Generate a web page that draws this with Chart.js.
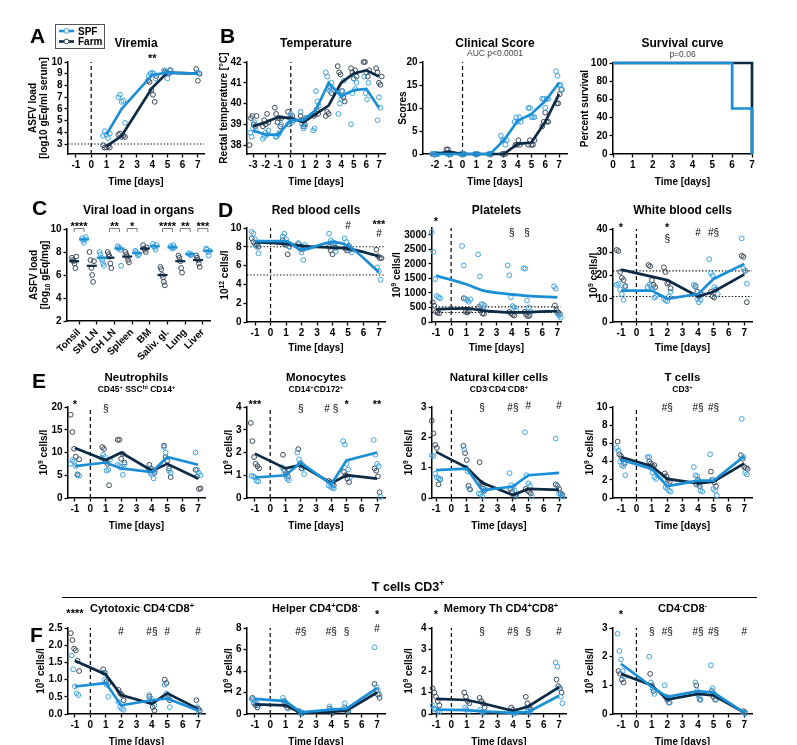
<!DOCTYPE html>
<html>
<head>
<meta charset="utf-8">
<script src="https://cdn.jsdelivr.net/npm/chart.js@4.4.0/dist/chart.umd.min.js"></script>
<style>
  body { margin: 0; background: #fff; width: 797px; height: 745px; position: relative; overflow: hidden; }
  canvas { position: absolute; }
</style>
</head>
<body>
<canvas id="bg" width="797" height="745" style="left:0;top:0"></canvas>
<script>
// ---------- data ----------
const groupNames = ['SPF', 'Farm'];
const bloodDays = [-1, 1, 2, 4, 5, 7];
const ticksM1 = [-1, 0, 1, 2, 3, 4, 5, 6, 7];

// A: viremia
const viremiaDays = [1, 2, 4, 5, 7];
const viremiaSPF = [[3.7, 4.1, 3.8, 3.5, 3.9], [7.0, 7.2, 6.6, 6.7, 4.8], [8.8, 9.0, 9.1, 9.0, 8.6], [9.3, 9.2, 8.6, 9.0, 9.3], [9.1, 9.05]];
const viremiaFarm = [[2.9, 2.7, 2.7, 2.8, 2.7], [3.8, 3.9, 3.6, 3.7, 3.6], [8.4, 8.3, 7.6, 7.2, 6.6, 8.8], [9.2, 9.1, 9.0, 9.3], [9.4, 8.4, 9.0]];
const viremiaSPFMean = [3.8, 6.0, 8.9, 9.1, 9.0];
const viremiaFarmMean = [2.8, 3.7, 7.8, 9.1, 9.0];
const viremiaTicks = [3, 4, 5, 6, 7, 8, 9, 10];

// B: temperature
const tempDays = [-3, -2, -1, 0, 1, 2, 3, 4, 5, 6, 7];
const tempSPF = [
  [38.6, 38.4, 38.8, 39.1, 38.7], [38.3, 38.4, 38.6, 38.5, 38.7], [38.4, 38.4, 38.5, 38.6, 39.0],
  [39.0, 39.3, 39.5, 39.1, 39.2], [39.6, 39.0, 38.8, 38.9, 39.3], [38.7, 38.8, 40.6, 40.1, 39.9],
  [41.5, 41.3, 40.7, 40.6, 41.0], [39.5, 40.0, 40.2, 40.6, 41.1], [39.0, 40.5, 41.2, 40.7, 41.0],
  [41.3, 40.5, 40.2, 41.0], [39.2, 40.3, 39.8]
];
const tempFarm = [
  [38.0, 39.3, 39.4, 39.0, 38.9, 39.4], [38.9, 39.2, 39.0, 39.5, 39.1], [39.8, 39.5, 39.1, 39.3, 38.9, 39.3],
  [39.6, 39.0, 39.3, 39.4, 39.2], [39.4, 39.2, 38.9, 39.0, 39.3], [39.4, 39.5, 39.7, 39.5],
  [39.4, 39.6, 39.5, 40.8, 40.5], [41.8, 41.5, 41.4, 40.6, 40.3, 40.1], [41.7, 41.5, 41.2, 41.6, 41.3],
  [42.0, 42.0, 41.5, 41.3, 41.6], [41.7, 41.5, 41.0, 40.9, 41.3]
];
const tempSPFMean = [38.7, 38.5, 38.5, 39.2, 39.2, 39.7, 41.0, 40.35, 40.65, 40.7, 39.8];
const tempFarmMean = [38.9, 39.1, 39.35, 39.3, 39.1, 39.5, 39.9, 41.0, 41.45, 41.6, 41.3];
const tempTicksX = [-3, -2, -1, 0, 1, 2, 3, 4, 5, 6, 7];
const tempTicksY = [38, 39, 40, 41, 42];

// B: clinical score
const clinDays = [-2, -1, 0, 1, 2, 3, 4, 5, 6, 7];
const clinSPF = [[0, 0, 0, 0, 0], [0, 0, 0], [0, 0, 0], [0, 0, 0], [0, 0, 0], [4, 3, 3, 2, 3], [7, 8, 7, 8, 7], [10, 10, 8, 8, 8], [12, 12, 10, 12, 12], [18, 17, 15, 15, 14]];
const clinFarm = [[0, 0, 0, 0], [1, 1, 0, 0], [0, 0, 0], [0, 0], [0, 0], [0, 0, 0], [2, 2, 3, 2], [2, 3, 2, 2, 3], [6, 7, 9, 7, 7], [11, 11, 13, 14]];
const clinSPFMean = [0, 0, 0, 0, 0, 3, 7.2, 8.7, 11.5, 15.5];
const clinFarmMean = [0, 0.5, 0, 0, 0, 0, 2.2, 2.5, 7, 13];
const clinTicksX = [-2, -1, 0, 1, 2, 3, 4, 5, 6, 7];
const clinTicksY = [0, 5, 10, 15, 20];

// B: survival
const survSPFDays = [0, 6, 7];
const survSPF = [100, 50, 0];
const survFarmDays = [0, 7];
const survFarm = [100, 0];
const survTicksX = [0, 1, 2, 3, 4, 5, 6, 7];
const survTicksY = [0, 20, 40, 60, 80, 100];

// C: viral load in organs
const organs = ['Tonsil', 'SM LN', 'GH LN', 'Spleen', 'BM', 'Saliv. gl.', 'Lung', 'Liver'];
const organFarm = [
  [7.5, 7.3, 7.2, 7.0, 6.6, 7.6], [8.0, 7.3, 6.6, 6.0, 5.4, 7.2], [8.0, 7.8, 7.6, 7.0, 6.6],
  [8.0, 7.8, 7.6, 7.3, 7.1], [8.6, 8.3, 8.2, 8.0, 8.4], [6.7, 6.5, 6.0, 5.8, 5.4, 5.1],
  [7.7, 7.5, 7.2, 6.6, 6.2], [7.7, 7.5, 7.3, 7.0, 6.7]
];
const organSPF = [
  [9.2, 9.0, 8.8, 9.1, 9.3], [8.0, 7.8, 7.5, 7.3, 7.0, 6.8], [8.5, 8.3, 8.4, 8.2, 6.8],
  [8.1, 8.0, 7.9, 7.7, 7.8], [8.7, 8.5, 8.4, 8.2, 8.6], [8.5, 8.4, 8.3, 8.6, 8.4],
  [7.9, 7.8, 7.7, 7.8], [8.3, 8.2, 8.0, 7.7, 8.1]
];
const organFarmMedian = [7.2, 6.8, 7.5, 7.6, 8.3, 6.0, 7.2, 7.3];
const organSPFMedian = [9.1, 7.5, 8.3, 7.9, 8.5, 8.4, 7.8, 8.1];
const organStars = ['****', '', '**', '*', '', '****', '**', '***'];
const organTicksY = [2, 4, 6, 8, 10];

// D: red blood cells
const rbcSPF = [[9.6, 9.4, 8.8, 8.0, 7.3], [9.1, 9.4, 8.8, 8.3, 8.0], [8.4, 7.8, 7.4, 6.6, 8.2], [9.4, 8.7, 8.5, 8.2, 7.5], [8.9, 8.5, 8.0, 7.7, 7.4], [5.8, 5.4, 4.5]];
const rbcFarm = [[8.9, 8.5, 8.3, 8.2, 8.0], [8.7, 8.3, 8.2, 7.2, 8.0], [8.3, 8.0, 7.7, 7.9], [8.0, 7.6, 7.2, 8.4, 7.9], [7.8, 7.6, 8.1, 7.7], [7.7, 7.0, 6.8, 6.8]];
const rbcSPFMean = [8.6, 8.6, 7.7, 8.5, 8.1, 5.3];
const rbcFarmMean = [8.5, 8.3, 8.1, 7.9, 7.8, 7.0];
const rbcTicksY = [0, 2, 4, 6, 8, 10];

// D: platelets
const pltSPF = [[3100, 2420, 1480, 900, 850, 820], [2620, 1950, 800, 750, 700, 780], [2330, 1570, 620, 600, 550], [1950, 1610, 850, 550, 500, 400], [1850, 1840, 740, 500, 350], [1230, 1150, 300, 220, 150]];
const pltFarm = [[680, 560, 350, 320, 300], [820, 350, 330, 370], [520, 400, 300, 280], [350, 300, 250, 220], [350, 250, 200, 220], [570, 400, 330, 280]];
const pltSPFMean = [1600, 1300, 1100, 950, 900, 850];
const pltFarmMean = [440, 470, 400, 330, 340, 380];
const pltTicksY = [0, 500, 1000, 1500, 2000, 2500, 3000];

// D: white blood cells
const wbcSPF = [[16, 16.5, 14, 12, 9.5, 15], [15, 16, 15.5, 14, 10.5, 11], [10, 9.3, 9.0, 11, 13], [16, 15, 10, 8.5, 9.5, 12], [27, 21, 20, 15, 14, 12], [36, 23, 22, 16.5]];
const wbcFarm = [[31, 30.5, 21.5, 19, 18, 15.5], [24.5, 24, 18, 16, 15], [23.5, 21.5, 16.5, 17, 14.5], [15.5, 13, 11, 12], [13, 11, 10.5, 14], [28.5, 28, 22, 8.5]];
const wbcSPFMean = [13.5, 13.5, 10, 12, 18.5, 25];
const wbcFarmMean = [22.5, 19.5, 18, 11, 13, 20.5];
const wbcTicksY = [0, 10, 20, 30, 40];

// E: neutrophils
const neuSPF = [[7.5, 8.3, 8.0, 7.0, 5.0, 4.9], [8.8, 9.5, 9.0, 6.0, 6.2, 8.5], [7.3, 7.0, 6.7, 5.1, 7.4], [6.5, 5.5, 5.2, 4.3, 6.0], [11.2, 10.0, 8.0, 6.0, 5.5], [10.0, 6.2, 5.5, 5.0]];
const neuFarm = [[18.3, 14.5, 10.8, 9.1, 5.2, 8.5], [11.2, 10.8, 8.2, 7.5, 2.8], [12.8, 12.8, 8.6, 9.7, 7.8], [7.3, 6.5, 6.0, 5.5], [11.5, 9.0, 8.2, 6.5, 4.6], [6.2, 4.7, 2.0, 2.1]];
const neuSPFMean = [7.0, 7.8, 6.5, 5.7, 9.0, 7.3];
const neuFarmMean = [11.0, 8.3, 10.0, 6.0, 7.5, 4.3];
const neuTicksY = [0, 5, 10, 15, 20];

// E: monocytes
const monoSPF = [[0.97, 0.95, 0.9, 0.75, 0.73], [1.35, 1.25, 1.0, 0.85, 0.78], [2.0, 1.7, 1.55, 1.3, 1.05], [0.55, 0.5, 0.45, 0.42], [2.5, 2.35, 1.5, 1.25, 0.9], [2.55, 1.9, 1.5, 1.4, 0.05]];
const monoFarm = [[3.3, 2.5, 1.8, 1.5, 1.4, 1.3], [1.9, 1.2, 1.1, 0.95], [2.15, 1.5, 1.3, 1.4], [0.75, 0.7, 0.6, 0.55], [1.15, 1.0, 0.85, 0.7], [1.3, 1.2, 0.95, 0.25]];
const monoSPFMean = [0.9, 1.0, 1.55, 0.6, 1.65, 2.0];
const monoFarmMean = [1.95, 1.3, 1.45, 0.65, 1.0, 0.85];
const monoTicksY = [0, 1, 2, 3, 4];

// E: natural killer cells
const nkSPF = [[1.4, 1.38, 0.8, 0.68, 0.65, 0.6], [1.6, 1.0, 0.88, 0.3], [0.15, 0.12, 0.05, 0.22, 0.28], [0.82, 0.42, 0.35, 0.25, 0.1], [2.17, 0.75, 0.48, 0.4, 0.05], [1.96, 0.4, 0.15, 0.1, 0.05]];
const nkFarm = [[2.55, 2.13, 1.75, 1.65, 0.45, 0.62], [1.72, 1.48, 1.25, 0.4, 0.28], [1.18, 0.5, 0.45, 0.25], [0.3, 0.2, 0.05, 0.05], [0.3, 0.25, 0.2, 0.15], [0.45, 0.4, 0.3, 0.15, 0.1]];
const nkSPFMean = [0.92, 0.97, 0.25, 0.38, 0.75, 0.83];
const nkFarmMean = [1.52, 1.0, 0.5, 0.1, 0.3, 0.27];
const nkTicksY = [0, 1, 2, 3];

// E: T cells
const tcSPF = [[5.5, 5.2, 4.0, 3.6, 3.5, 2.5], [4.5, 4.5, 3.3, 2.8, 2.3, 2.1], [2.0, 1.2, 1.0, 0.8, 0.7], [3.4, 2.5, 2.4, 1.5, 0.8, 0.7], [4.8, 2.0, 1.0, 0.8, 0.3], [8.7, 4.5, 2.8, 2.6]];
const tcFarm = [[6.2, 4.8, 4.6, 4.2, 3.8], [4.0, 3.8, 3.5, 3.6], [2.7, 2.4, 2.0, 1.8], [1.5, 2.0, 1.3], [2.9, 2.0, 1.7, 1.3], [4.7, 4.3, 3.4, 3.3, 3.2]];
const tcSPFMean = [4.2, 3.2, 1.3, 1.9, 1.9, 4.6];
const tcFarmMean = [4.5, 3.5, 2.1, 1.6, 1.8, 3.8];
const tcTicksY = [0, 2, 4, 6, 8, 10];

// F: cytotoxic CD4-CD8+
const cytoSPF = [[1.7, 1.3, 0.8, 0.6, 0.55], [1.2, 1.0, 0.85, 0.5], [0.35, 0.2, 0.15, 0.12], [0.55, 0.45, 0.35, 0.25], [0.85, 0.6, 0.45, 0.2], [0.2, 0.05]];
const cytoFarm = [[2.35, 2.15, 1.9, 1.85, 1.55, 1.25], [1.3, 1.2, 0.95, 0.9], [0.7, 0.6, 0.55, 0.4], [0.5, 0.35, 0.2, 0.1], [1.0, 0.9, 0.55, 0.4], [0.4, 0.15, 0.1]];
const cytoSPFMean = [0.8, 0.9, 0.25, 0.4, 0.45, 0.1];
const cytoFarmMean = [1.55, 1.15, 0.55, 0.3, 0.6, 0.15];
const cytoTicksY = [0, 0.5, 1.0, 1.5, 2.0, 2.5];

// F: helper CD4+CD8-
const helpSPF = [[1.4, 1.3, 1.2, 1.0, 0.8], [1.5, 1.2, 1.0, 0.5], [0.3, 0.15, 0.05], [0.7, 0.4, 0.3], [1.0, 0.5, 0.3], [6.2, 2.5, 2.2, 1.8]];
const helpFarm = [[1.5, 1.0, 0.8, 0.6], [1.2, 0.8, 0.6], [0.2, 0.1, 0.1], [0.5, 0.2, 0.1], [0.6, 0.3, 0.2], [2.8, 2.2, 1.8, 1.5]];
const helpSPFMean = [1.4, 1.2, 0.15, 0.4, 0.5, 2.4];
const helpFarmMean = [0.9, 0.8, 0.1, 0.2, 0.3, 2.0];
const helpTicksY = [0, 2, 4, 6, 8];

// F: memory Th CD4+CD8+
const memSPF = [[0.4, 0.25, 0.2, 0.15, 0.1], [0.3, 0.2, 0.1], [0.2, 0.1, 0.05], [0.1, 0.05, 0.02], [0.3, 0.1, 0.05], [2.4, 2.2, 1.2, 0.8, 0.5]];
const memFarm = [[1.2, 1.0, 0.8, 0.6, 0.4], [1.0, 0.8, 0.6, 0.5], [0.75, 0.6, 0.5, 0.3], [0.3, 0.2, 0.1], [0.8, 0.5, 0.3, 0.2], [1.6, 1.3, 1.2, 1.0]];
const memSPFMean = [0.2, 0.18, 0.12, 0.05, 0.1, 0.85];
const memFarmMean = [0.7, 0.65, 0.5, 0.15, 0.35, 1.25];
const memTicksY = [0, 1, 2, 3, 4];

// F: CD4-CD8-
const dnSPF = [[2.8, 2.2, 1.9, 1.5, 1.3], [2.0, 1.1, 0.9, 0.7], [1.0, 0.6, 0.5, 0.4], [1.1, 0.8, 0.6, 0.5], [1.7, 0.9, 0.7, 0.5], [0.05, 0.02]];
const dnFarm = [[1.5, 1.4, 1.2, 1.1], [1.4, 1.0, 0.8], [0.6, 0.5, 0.4], [1.0, 0.7, 0.5], [0.8, 0.6, 0.5], [0.1, 0.05]];
const dnSPFMean = [1.75, 0.95, 0.6, 0.8, 0.75, 0.05];
const dnFarmMean = [1.4, 1.0, 0.5, 0.7, 0.65, 0.05];
const dnTicksY = [0, 1, 2, 3];

// ---------- styling ----------
const FONT = '"Liberation Sans", Arial, Helvetica, sans-serif';
const SPF_LINE = '#1b8fd6';
const SPF_PT = '#3fa2e0';
const FARM_LINE = '#0c2a44';
const FARM_PT = '#3a4858';
const PAD = { l: 62, t: 50, r: 14, b: 42 };

// spread points of each group a little around their day
function spread(days, groups, shift, step) {
  const out = [];
  groups.forEach((vals, i) => {
    vals.forEach((v, j) => out.push({ x: days[i] + shift + (j - (vals.length - 1) / 2) * step, y: v }));
  });
  return out;
}
function pairs(days, vals) { return days.map((d, i) => ({ x: d, y: vals[i] })); }

function ptsDs(data, color, order) {
  return { data, showLine: false, pointStyle: 'circle', pointRadius: 2.4, pointBorderWidth: 1,
    pointBorderColor: color, pointBackgroundColor: 'rgba(255,255,255,0)', clip: false, order };
}
function lineDs(data, color, order, smooth) {
  const ds = { data, showLine: true, borderColor: color, borderWidth: 2.7, pointRadius: 0, clip: false, order };
  if (smooth) ds.cubicInterpolationMode = 'monotone';
  return ds;
}
function groupSets(days, spf, farm, spfMean, farmMean, smooth) {
  return [
    ptsDs(spread(days, farm, 0, 0.11), FARM_PT, 3),
    ptsDs(spread(days, spf, 0, 0.11), SPF_PT, 2),
    lineDs(pairs(days, farmMean), FARM_LINE, 1, smooth),
    lineDs(pairs(days, spfMean), SPF_LINE, 0, smooth)
  ];
}

// small markup: ^{sup} _{sub}
function parseRich(s) {
  const segs = [];
  const re = /\^\{([^}]*)\}|_\{([^}]*)\}|([^^_]+)/g;
  let m;
  while ((m = re.exec(s))) {
    if (m[1] !== undefined) segs.push([m[1], 'sup']);
    else if (m[2] !== undefined) segs.push([m[2], 'sub']);
    else segs.push([m[3], '']);
  }
  return segs;
}
function drawRich(ctx, s, x, y, size, weight, color) {
  const segs = parseRich(s);
  const fontOf = k => `${weight} ${k ? Math.round(size * 0.68 * 10) / 10 : size}px ${FONT}`;
  let w = 0;
  segs.forEach(g => { ctx.font = fontOf(g[1]); w += ctx.measureText(g[0]).width; });
  let cx = x - w / 2;
  ctx.fillStyle = color || '#000';
  ctx.textAlign = 'left';
  ctx.textBaseline = 'alphabetic';
  segs.forEach(g => {
    ctx.font = fontOf(g[1]);
    const dy = g[1] === 'sup' ? -size * 0.38 : g[1] === 'sub' ? size * 0.25 : 0;
    ctx.fillText(g[0], cx, y + dy);
    cx += ctx.measureText(g[0]).width;
  });
}

function axis(range, ticks, fmt, isX, extra) {
  const a = {
    type: 'linear', min: range[0], max: range[1],
    afterBuildTicks: s => { s.ticks = ticks.map(v => ({ value: v })); },
    afterFit: s => { if (isX) s.height = (extra && extra.padB) || PAD.b; else s.width = PAD.l; },
    ticks: { color: '#000', font: { family: FONT, size: 10, weight: 'bold' }, padding: 2,
      autoSkip: false, maxRotation: 0, minRotation: 0, callback: fmt || (v => String(v)) },
    grid: { display: true, drawOnChartArea: false, drawTicks: true, tickLength: 3.5, tickWidth: 1.3, tickColor: '#000' },
    border: { display: true, color: '#000', width: 1.5 }
  };
  if (extra && extra.rot) { a.ticks.maxRotation = extra.rot; a.ticks.minRotation = extra.rot; }
  return a;
}

function deco(p) {
  return {
    id: 'deco',
    beforeDatasetsDraw(chart) {
      const { ctx, chartArea: a, scales: { x, y } } = chart;
      ctx.save();
      ctx.strokeStyle = '#000';
      if (p.zero) {
        ctx.lineWidth = 1.2; ctx.setLineDash([4, 3]);
        const px = x.getPixelForValue(0);
        ctx.beginPath(); ctx.moveTo(px, a.bottom); ctx.lineTo(px, a.top); ctx.stroke();
      }
      (p.refs || []).forEach(v => {
        ctx.lineWidth = 1.1; ctx.setLineDash([1.3, 2]);
        const py = y.getPixelForValue(v);
        ctx.beginPath(); ctx.moveTo(a.left, py); ctx.lineTo(a.right, py); ctx.stroke();
      });
      ctx.restore();
    },
    afterDraw(chart) {
      const { ctx, chartArea: a, scales: { x, y } } = chart;
      const cxp = (a.left + a.right) / 2, cyp = (a.top + a.bottom) / 2;
      ctx.save();
      const tx = p.titleX !== undefined ? p.titleX - p.ox : cxp;
      if (p.title) drawRich(ctx, p.title, tx, p.titleY - p.oy + p.titleSize * 0.36, p.titleSize, 'bold');
      if (p.sub) drawRich(ctx, p.sub, tx, p.subY - p.oy + 3, p.subSize || 8.5, p.subWeight || 'bold', p.subColor);
      drawRich(ctx, 'Time [days]', cxp, a.bottom + (p.xTitleDy || 27) + 3.5, 10, 'bold');
      (p.yTitles || []).forEach(t => {
        ctx.save();
        ctx.translate(t[1] - p.ox, cyp);
        ctx.rotate(-Math.PI / 2);
        drawRich(ctx, t[0], 0, 3.5, 10, 'bold');
        ctx.restore();
      });
      (p.sigs || []).forEach(s => {
        const star = s[1].indexOf('*') >= 0;
        const size = star ? 11 : 10;
        drawRich(ctx, s[1], x.getPixelForValue(s[0]), a.top + s[2] + size * (star ? 0.55 : 0.36), size, star ? 'bold' : 'normal');
      });
      if (p.brackets) {
        p.brackets.forEach((st, i) => {
          if (!st) return;
          const x1 = x.getPixelForValue(i - 0.28), x2 = x.getPixelForValue(i + 0.28), yy = a.top - 0.5;
          ctx.strokeStyle = '#777'; ctx.lineWidth = 1; ctx.setLineDash([]);
          ctx.beginPath(); ctx.moveTo(x1, yy + 3.5); ctx.lineTo(x1, yy); ctx.lineTo(x2, yy); ctx.lineTo(x2, yy + 3.5); ctx.stroke();
          drawRich(ctx, st, (x1 + x2) / 2, yy - 5 + 6, 11, 'bold');
        });
      }
      if (p.legend) {
        const L = p.legend;
        ctx.strokeStyle = '#555'; ctx.lineWidth = 1; ctx.setLineDash([]);
        ctx.strokeRect(L.x - p.ox + 0.5, L.y - p.oy + 0.5, L.w, L.h);
        groupNames.forEach((name, i) => {
          const yy = L.y - p.oy + 7 + i * 10.5;
          const lx = L.x - p.ox + 4;
          ctx.strokeStyle = i === 0 ? SPF_LINE : FARM_LINE; ctx.lineWidth = 2.6;
          ctx.beginPath(); ctx.moveTo(lx, yy); ctx.lineTo(lx + 15, yy); ctx.stroke();
          ctx.fillStyle = '#fff'; ctx.strokeStyle = i === 0 ? SPF_PT : FARM_PT; ctx.lineWidth = 1;
          ctx.beginPath(); ctx.arc(lx + 7.5, yy, 2.4, 0, Math.PI * 2); ctx.fill(); ctx.stroke();
          ctx.fillStyle = '#000'; ctx.font = `bold 10px ${FONT}`; ctx.textAlign = 'left'; ctx.textBaseline = 'alphabetic';
          ctx.fillText(name, lx + 19, yy + 3.6);
        });
      }
      ctx.restore();
    }
  };
}

// ---------- panels ----------
const cellsTitle = '10^{9} cells/l';
const panels = [
  { l: 68, r: 204, t: 62, b: 154, xr: [-1.52, 7.4], xt: ticksM1, yr: [2.15, 10], yt: viremiaTicks, zero: true, refs: [3],
    title: 'Viremia', titleY: 43, titleSize: 12, yTitles: [['ASFV load', 32], ['[log10 gEq/ml serum]', 43]],
    sigs: [[4, '**', -6]], legend: { x: 55, y: 24, w: 49, h: 24 },
    ds: groupSets(viremiaDays, viremiaSPF, viremiaFarm, viremiaSPFMean, viremiaFarmMean) },
  { l: 247, r: 385, t: 62, b: 154, xr: [-3.48, 7.48], xt: tempTicksX, yr: [37.57, 42], yt: tempTicksY, zero: true,
    title: 'Temperature', titleY: 43, titleSize: 12, yTitles: [['Rectal temperature [°C]', 223]],
    ds: groupSets(tempDays, tempSPF, tempFarm, tempSPFMean, tempFarmMean) },
  { l: 423, r: 567, t: 62, b: 154, xr: [-2.87, 7.58], xt: clinTicksX, yr: [0, 20], yt: clinTicksY, zero: true,
    title: 'Clinical Score', titleY: 43, titleSize: 12, sub: 'AUC p<0.0001', subY: 53, subSize: 8.5, subWeight: 'normal', subColor: '#444',
    yTitles: [['Scores', 402]],
    ds: groupSets(clinDays, clinSPF, clinFarm, clinSPFMean, clinFarmMean) },
  { l: 613, r: 752, t: 63, b: 154, xr: [0, 7], xt: survTicksX, yr: [0, 100], yt: survTicksY,
    title: 'Survival curve', titleY: 43, titleSize: 12, sub: 'p=0.06', subY: 54, subSize: 8.5, subWeight: 'normal', subColor: '#444',
    yTitles: [['Percent survival', 584]],
    ds: [
      { data: pairs(survFarmDays, survFarm), showLine: true, stepped: 'before', borderColor: FARM_LINE, borderWidth: 2.7, pointRadius: 0, clip: false, order: 1 },
      { data: pairs(survSPFDays, survSPF), showLine: true, stepped: 'before', borderColor: SPF_LINE, borderWidth: 2.7, pointRadius: 0, clip: false, order: 0 }
    ] },
  { l: 67, r: 210, t: 229, b: 321, xr: [-0.68, 7.4], xt: [0, 1, 2, 3, 4, 5, 6, 7], xfmt: v => organs[v], rot: 45, padB: 48, noXTitle: true,
    yr: [2, 10], yt: organTicksY, title: 'Viral load in organs', titleY: 210, titleSize: 12,
    yTitles: [['ASFV load', 33], ['[log_{10} gEq/mg]', 44]], brackets: organStars,
    ds: [
      ptsDs(spread([0, 1, 2, 3, 4, 5, 6, 7], organFarm, -0.28, 0.05), FARM_PT, 3),
      ptsDs(spread([0, 1, 2, 3, 4, 5, 6, 7], organSPF, 0.28, 0.05), SPF_PT, 2),
      { data: pairs([-0.28, 0.72, 1.72, 2.72, 3.72, 4.72, 5.72, 6.72], organFarmMedian), showLine: false, pointStyle: 'line', pointRadius: 5, pointBorderWidth: 2.2, pointBorderColor: FARM_LINE, clip: false, order: 1 },
      { data: pairs([0.28, 1.28, 2.28, 3.28, 4.28, 5.28, 6.28, 7.28], organSPFMedian), showLine: false, pointStyle: 'line', pointRadius: 5, pointBorderWidth: 2.2, pointBorderColor: SPF_LINE, clip: false, order: 0 }
    ] },
  { l: 247, r: 385, t: 228, b: 322, xr: [-1.52, 7.39], xt: ticksM1, yr: [0, 10], yt: rbcTicksY, zero: true, refs: [8, 5],
    title: 'Red blood cells', titleY: 210, titleSize: 12, yTitles: [['10^{12} cells/l', 224]], xTitleDy: 25,
    sigs: [[5, '#', -3], [7, '***', -6], [7, '#', 5]],
    ds: groupSets(bloodDays, rbcSPF, rbcFarm, rbcSPFMean, rbcFarmMean, true) },
  { l: 432, r: 561, t: 228, b: 322, xr: [-1.26, 7.24], xt: ticksM1, yr: [0, 3240], yt: pltTicksY, zero: true, refs: [520, 330],
    title: 'Platelets', titleY: 210, titleSize: 12, yTitles: [[cellsTitle, 396]], xTitleDy: 25,
    sigs: [[-1, '*', -9], [4, '§', 4], [5, '§', 4]],
    ds: groupSets(bloodDays, pltSPF, pltFarm, pltSPFMean, pltFarmMean, true) },
  { l: 613, r: 752, t: 229, b: 322, xr: [-1.52, 7.5], xt: ticksM1, yr: [0, 40], yt: wbcTicksY, zero: true, refs: [22, 11],
    title: 'White blood cells', titleY: 210, titleSize: 12, yTitles: [[cellsTitle, 593]], xTitleDy: 25,
    sigs: [[-1, '*', -4], [2, '*', -4], [2, '§', 9], [4, '#', 3], [5, '#§', 3]],
    ds: groupSets(bloodDays, wbcSPF, wbcFarm, wbcSPFMean, wbcFarmMean) },
  { l: 68, r: 205, t: 407, b: 498, xr: [-1.45, 7.45], xt: ticksM1, yr: [0, 20], yt: neuTicksY, zero: true,
    title: 'Neutrophils', titleY: 377, titleSize: 11.5, sub: 'CD45^{+} SSC^{hi} CD14^{+}', subY: 389, yTitles: [[cellsTitle, 43]],
    sigs: [[-1, '*', -5], [1, '§', 1]],
    ds: groupSets(bloodDays, neuSPF, neuFarm, neuSPFMean, neuFarmMean) },
  { l: 247, r: 385, t: 407, b: 498, xr: [-1.52, 7.52], xt: ticksM1, yr: [0, 4], yt: monoTicksY, zero: true,
    title: 'Monocytes', titleY: 377, titleSize: 11.5, sub: 'CD14^{+}CD172^{+}', subY: 389, yTitles: [[cellsTitle, 228]],
    sigs: [[-1, '***', -5], [2, '§', 1], [4, '# §', 1], [5, '*', -5], [7, '**', -5]],
    ds: groupSets(bloodDays, monoSPF, monoFarm, monoSPFMean, monoFarmMean) },
  { l: 432, r: 566, t: 407, b: 498, xr: [-1.26, 7.45], xt: ticksM1, yr: [0, 3], yt: nkTicksY, zero: true,
    title: 'Natural killer cells', titleY: 377, titleSize: 11.5, sub: 'CD3^{-}CD4^{-}CD8^{+}', subY: 389, yTitles: [[cellsTitle, 408]],
    sigs: [[2, '§', 0], [4, '#§', 0], [5, '#', -2], [7, '#', -2]],
    ds: groupSets(bloodDays, nkSPF, nkFarm, nkSPFMean, nkFarmMean) },
  { l: 613, r: 752, t: 407, b: 498, xr: [-1.52, 7.5], xt: ticksM1, yr: [0, 10], yt: tcTicksY, zero: true,
    title: 'T cells', titleY: 377, titleSize: 11.5, sub: 'CD3^{+}', subY: 389, yTitles: [[cellsTitle, 589]],
    sigs: [[2, '#§', 0], [4, '#§', 0], [5, '#§', 0]],
    ds: groupSets(bloodDays, tcSPF, tcFarm, tcSPFMean, tcFarmMean) },
  { l: 68, r: 205, t: 628, b: 714, xr: [-1.45, 7.45], xt: ticksM1, yr: [0, 2.5], yt: cytoTicksY, yfmt: v => v.toFixed(1), zero: true,
    title: 'Cytotoxic CD4^{-}CD8^{+}', titleX: 142, titleY: 608, titleSize: 11, yTitles: [[cellsTitle, 40]],
    sigs: [[-1, '****', -17], [2, '#', 3], [4, '#§', 3], [5, '#', 3], [7, '#', 3]],
    ds: groupSets(bloodDays, cytoSPF, cytoFarm, cytoSPFMean, cytoFarmMean) },
  { l: 247, r: 385, t: 628, b: 714, xr: [-1.52, 7.52], xt: ticksM1, yr: [0, 8], yt: helpTicksY, zero: true,
    title: 'Helper CD4^{+}CD8^{-}', titleY: 608, titleSize: 11, yTitles: [[cellsTitle, 228]],
    sigs: [[2, '#§', 3], [4, '#§', 3], [5, '§', 3], [7, '*', -16], [7, '#', 0]],
    ds: groupSets(bloodDays, helpSPF, helpFarm, helpSPFMean, helpFarmMean) },
  { l: 432, r: 566, t: 628, b: 714, xr: [-1.26, 7.45], xt: ticksM1, yr: [0, 4], yt: memTicksY, zero: true,
    title: 'Memory Th CD4^{+}CD8^{+}', titleX: 501, titleY: 608, titleSize: 11, yTitles: [[cellsTitle, 408]],
    sigs: [[-1, '*', -16], [2, '§', 3], [4, '#§', 3], [5, '§', 3], [7, '#', 3]],
    ds: groupSets(bloodDays, memSPF, memFarm, memSPFMean, memFarmMean) },
  { l: 613, r: 752, t: 628, b: 714, xr: [-1.52, 7.5], xt: ticksM1, yr: [0, 3], yt: dnTicksY, zero: true,
    title: 'CD4^{-}CD8^{-}', titleY: 608, titleSize: 11, yTitles: [[cellsTitle, 589]],
    sigs: [[-1, '*', -16], [1, '§', 3], [2, '#§', 3], [4, '#§', 3], [5, '#§', 3], [7, '#', 3]],
    ds: groupSets(bloodDays, dnSPF, dnFarm, dnSPFMean, dnFarmMean) }
];

panels.forEach(p => {
  const padB = p.padB || PAD.b;
  const c = document.createElement('canvas');
  c.width = p.r - p.l + PAD.l + PAD.r;
  c.height = p.b - p.t + PAD.t + padB;
  p.ox = p.l - PAD.l; p.oy = p.t - PAD.t;
  c.style.left = p.ox + 'px'; c.style.top = p.oy + 'px';
  document.body.appendChild(c);
  if (p.noXTitle) p.xTitleDy = -1000;
  new Chart(c, {
    type: 'scatter',
    data: { datasets: p.ds },
    options: {
      responsive: false, animation: false, devicePixelRatio: 1,
      layout: { padding: { left: 0, top: PAD.t, right: PAD.r, bottom: 0 } },
      plugins: { legend: { display: false }, tooltip: { enabled: false } },
      scales: {
        x: axis(p.xr, p.xt, p.xfmt, true, { padB, rot: p.rot }),
        y: axis(p.yr, p.yt, p.yfmt, false)
      }
    },
    plugins: [deco(p)]
  });
});

// panel letters and F header
const bg = document.getElementById('bg').getContext('2d');
bg.fillStyle = '#000';
bg.font = `bold 21px ${FONT}`;
[['A', 30, 43], ['B', 220, 43], ['C', 32, 215], ['D', 218, 217], ['E', 32, 388], ['F', 30, 642]].forEach(l => bg.fillText(l[0], l[1], l[2]));
drawRich(bg, 'T cells CD3^{+}', 408, 591, 12.5, 'bold');
bg.strokeStyle = '#000'; bg.lineWidth = 1.2;
bg.beginPath(); bg.moveTo(62, 597.5); bg.lineTo(757, 597.5); bg.stroke();
</script>
</body>
</html>
